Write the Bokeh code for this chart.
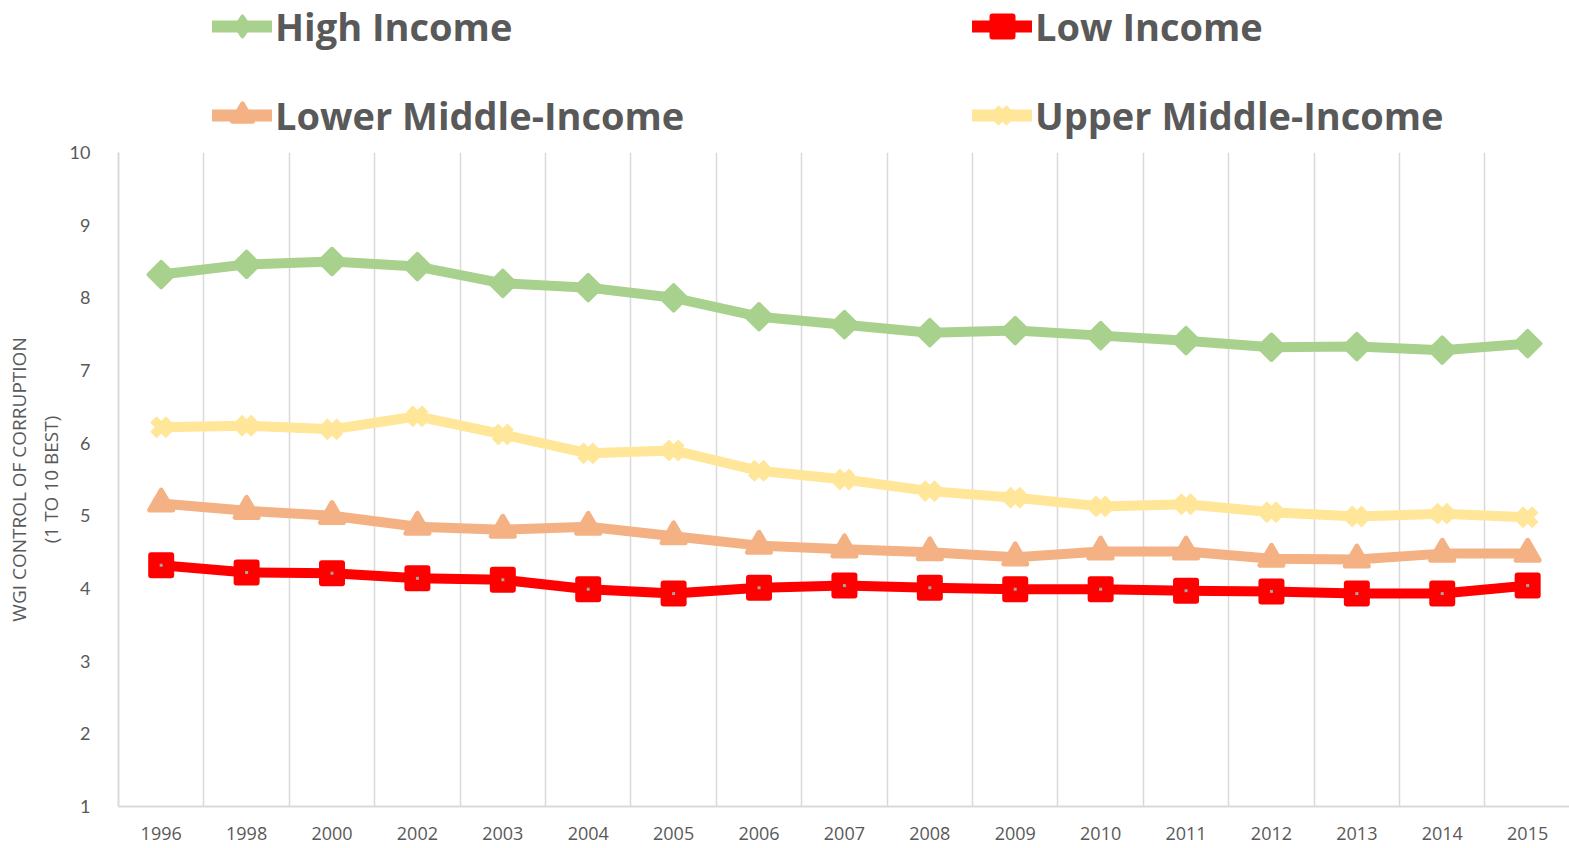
from bokeh.plotting import figure
from bokeh.layouts import column
from bokeh.models import Range1d, FixedTicker, Grid, Legend, LegendItem, ColumnDataSource
from bokeh.embed import file_html
from bokeh.resources import INLINE

years = ["1996", "1998", "2000", "2002", "2003", "2004", "2005", "2006", "2007",
         "2008", "2009", "2010", "2011", "2012", "2013", "2014", "2015"]
high_income = [8.32, 8.46, 8.50, 8.43, 8.20, 8.14, 8.00, 7.74, 7.63, 7.52, 7.55,
               7.48, 7.41, 7.32, 7.33, 7.28, 7.37]
low_income = [4.32, 4.22, 4.21, 4.14, 4.12, 3.99, 3.93, 4.01, 4.04, 4.01, 3.99,
              3.99, 3.97, 3.96, 3.93, 3.93, 4.04]
lower_middle = [5.17, 5.07, 5.00, 4.85, 4.81, 4.85, 4.72, 4.59, 4.54, 4.50, 4.43,
                4.51, 4.51, 4.41, 4.40, 4.48, 4.48]
upper_middle = [6.22, 6.24, 6.19, 6.37, 6.12, 5.86, 5.90, 5.62, 5.50, 5.34, 5.25,
                5.13, 5.16, 5.05, 4.99, 5.03, 4.98]
y_ticks = [1, 2, 3, 4, 5, 6, 7, 8, 9, 10]

xs = list(range(len(years)))
TXT = "#595959"
GRID = "#d9d9d9"
FONT = "Lato"
LFONT = "Open Sans"

# series styles: (label, values, color, marker, legend marker, size, marker line width, centre dot)
styles = [
    ("High Income", high_income, "#A9D18E", "diamond_sq", "diamond", 18, 4, False),
    ("Upper Middle-Income", upper_middle, "#FFE699", "x", "x", 22, 9, False),
    ("Lower Middle-Income", lower_middle, "#F4B183", "triangle", "triangle", 23, 5, False),
    ("Low Income", low_income, "#FF0000", "square", "square", 20, 6, True),
]

p = figure(width=1569, height=707, output_backend="svg", toolbar_location=None,
           x_range=Range1d(-0.5, 16.49), y_range=Range1d(1, 10),
           min_border_left=118, min_border_right=0, min_border_top=11, min_border_bottom=42)
p.outline_line_color = None
p.xgrid.visible = False
p.ygrid.visible = False

vgrid = Grid(dimension=0, ticker=FixedTicker(ticks=[i + 0.5 for i in range(len(years) - 1)]),
             grid_line_color=GRID, grid_line_width=1.5)
p.add_layout(vgrid)

p.xaxis.ticker = FixedTicker(ticks=xs)
p.xaxis.major_label_overrides = {i: y for i, y in enumerate(years)}
p.yaxis.ticker = FixedTicker(ticks=y_ticks)
for ax in (p.xaxis, p.yaxis):
    ax.axis_line_color = GRID
    ax.axis_line_width = 2
    ax.major_tick_line_color = None
    ax.minor_tick_line_color = None
    ax.major_label_text_color = TXT
p.xaxis.major_label_text_font = LFONT
p.yaxis.major_label_text_font = FONT
p.xaxis.major_label_text_font_size = "18px"
p.xaxis.major_label_standoff = 14
p.yaxis.major_label_text_font_size = "18px"
p.yaxis.major_label_standoff = 22
p.yaxis.axis_label = "WGI CONTROL OF CORRUPTION\n(1 TO 10 BEST)"
p.yaxis.axis_label_text_font = LFONT
p.yaxis.axis_label_text_font_size = "19px"
p.yaxis.axis_label_text_font_style = "normal"
p.yaxis.axis_label_text_color = TXT
p.yaxis.axis_label_standoff = 3

# top strip that holds the legend (its data lie outside its visible y range)
top = figure(width=1569, height=141, output_backend="svg", toolbar_location=None,
             x_range=Range1d(-0.5, 16.49), y_range=Range1d(20, 21),
             x_axis_location=None, y_axis_location=None,
             min_border_left=0, min_border_right=0, min_border_top=0, min_border_bottom=0)
top.outline_line_color = None
top.xgrid.visible = False
top.ygrid.visible = False


def draw(fig, vals, color, marker, size, lw, dot, line_width=10):
    src = ColumnDataSource(dict(x=xs, y=vals))
    rl = fig.line("x", "y", source=src, line_color=color, line_width=line_width,
                  line_cap="round", line_join="round")
    angle = 0.785398 if marker == "diamond_sq" else 0
    mk = "square" if marker == "diamond_sq" else marker
    rs = fig.scatter("x", "y", source=src, marker=mk, size=size, angle=angle,
                     fill_color=color, line_color=color, line_width=lw,
                     line_join="round")
    if dot:
        fig.scatter("x", "y", source=src, marker="square", size=3,
                    fill_color="#a6a6a6", line_color=None)
    return [rl, rs]


items = {}
for label, vals, color, marker, lmarker, size, lw, dot in styles:
    draw(p, vals, color, marker, size, lw, dot)
    items[label] = draw(top, vals, color, lmarker, size, lw, False, line_width=12)


def make_legend(labels, x):
    lg = Legend(items=[LegendItem(label=l, renderers=items[l]) for l in labels],
                location=(x, 0), orientation="vertical",
                label_text_font=LFONT, label_text_font_style="bold",
                label_text_font_size="38px", label_text_color=TXT,
                glyph_width=60, glyph_height=50, label_height=40,
                label_standoff=3, spacing=37, padding=0, margin=0,
                border_line_color=None, background_fill_alpha=0)
    top.add_layout(lg)


make_legend(["High Income", "Lower Middle-Income"], 94)
make_legend(["Low Income", "Upper Middle-Income"], 854)

layout = column(top, p, spacing=0)
open("out.html", "w").write(file_html(layout, INLINE))
